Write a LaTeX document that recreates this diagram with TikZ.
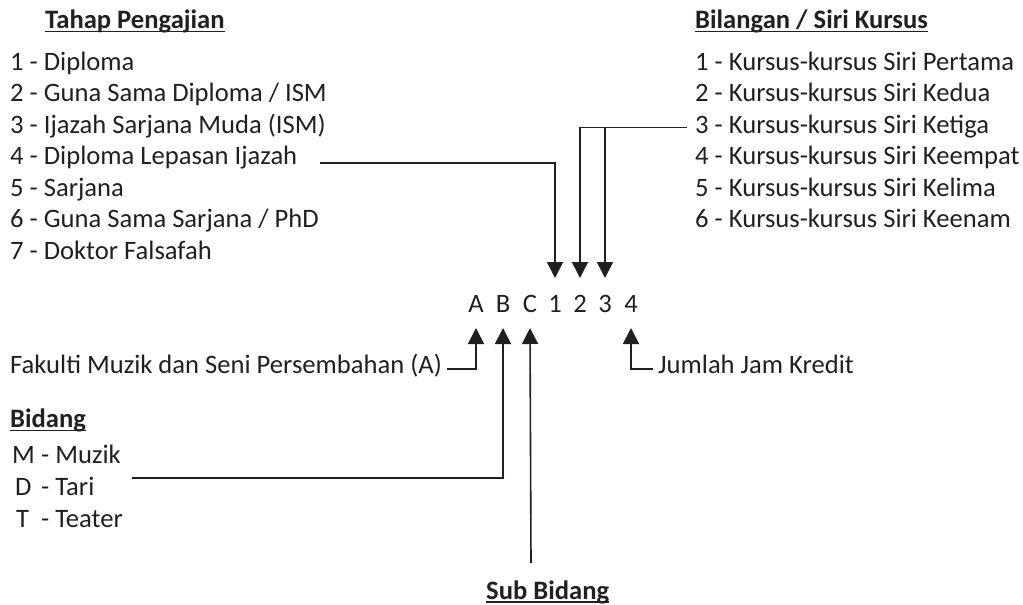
\documentclass[tikz,border=0pt]{standalone}
\usepackage{fontspec}
\setmainfont{Carlito}
\usetikzlibrary{arrows.meta,calc}
\definecolor{ink}{HTML}{231F20}
\begin{document}
\begin{tikzpicture}[x=1pt,y=-1pt,
  txt/.style={anchor=base west,inner sep=0pt,font=\fontsize{26.6}{30}\selectfont,text=ink},
  ttl/.style={txt,font=\fontsize{26.6}{30}\selectfont\bfseries},
  code/.style={anchor=base,inner sep=0pt,font=\fontsize{26.6}{30}\selectfont,text=ink},
  uline/.style={draw=ink,line width=1.3pt},
  arr/.style={draw=ink,line width=1.6pt,-{Triangle[width=16pt,length=16pt]}},
  conn/.style={draw=ink,line width=1.6pt}]
\useasboundingbox (0,0) rectangle (1023,605);
% left titles and list
\node[ttl] (tL) at (45,28) {Tahap Pengajian};
\draw[uline] ([yshift=-3.5pt]tL.base west) -- ([yshift=-3.5pt]tL.base east);
\node[txt] (l1) at (10,70) {1 - Diploma};
\node[txt] (l2) at (10,101.5) {2 - Guna Sama Diploma / ISM};
\node[txt] (l3) at (10,133) {3 - Ijazah Sarjana Muda (ISM)};
\node[txt] (l4) at (10,164.5) {4 - Diploma Lepasan Ijazah};
\node[txt] (l5) at (10,196) {5 - Sarjana};
\node[txt] (l6) at (10,227.5) {6 - Guna Sama Sarjana / PhD};
\node[txt] (l7) at (10,259) {7 - Doktor Falsafah};
% right titles and list
\node[ttl] (tR) at (695,28) {Bilangan / Siri Kursus};
\draw[uline] ([yshift=-3.5pt]tR.base west) -- ([yshift=-3.5pt]tR.base east);
\node[txt] (r1) at (695,70) {1 - Kursus-kursus Siri Pertama};
\node[txt] (r2) at (695,101.5) {2 - Kursus-kursus Siri Kedua};
\node[txt] (r3) at (695,133) {3 - Kursus-kursus Siri Ketiga};
\node[txt] (r4) at (695,164.5) {4 - Kursus-kursus Siri Keempat};
\node[txt] (r5) at (695,196) {5 - Kursus-kursus Siri Kelima};
\node[txt] (r6) at (695,227.5) {6 - Kursus-kursus Siri Keenam};
% code letters
\node[code] (cA) at (476,312) {A};
\node[code] (cB) at (503,312) {B};
\node[code] (cC) at (530,312) {C};
\node[code] (c1) at (555,312) {1};
\node[code] (c2) at (580,312) {2};
\node[code] (c3) at (605,312) {3};
\node[code] (c4) at (631,312) {4};
% lower texts
\node[txt] (fak) at (10,373) {Fakulti Muzik dan Seni Persembahan (A)};
\node[txt] (jum) at (658,373) {Jumlah Jam Kredit};
\node[ttl] (bid) at (10,427) {Bidang};
\draw[uline] ([yshift=-3.5pt]bid.base west) -- ([yshift=-3.5pt]bid.base east);
\node[txt] (bM) at (12,463) {M};
\node[txt] (bMt) at (41,463) {- Muzik};
\node[txt] (bD) at (15,495) {D};
\node[txt] (bDt) at (41,495) {- Tari};
\node[txt] (bT) at (16,527) {T};
\node[txt] (bTt) at (41,527) {- Teater};
\node[ttl] (sub) at (486,599) {Sub Bidang};
\draw[uline] ([yshift=-3pt]sub.base west) -- ([yshift=-3pt]sub.base east);
% connectors to top
\draw[arr] ([xshift=23pt,yshift=1.5pt]l4.base east) -| ([yshift=34pt]c1.base);
\coordinate (k3) at ([xshift=-8pt,yshift=5.5pt]r3.base west);
\draw[arr] (k3) -| ([yshift=34pt]c2.base);
\draw[arr] (k3 -| c3) -- ([yshift=34pt]c3.base);
% connectors from bottom
\draw[arr] ([xshift=5pt,yshift=4pt]fak.base east) -| ([yshift=-16pt]cA.base);
\coordinate (dline) at (132,478);
\draw[arr] (dline) -| ([yshift=-16pt]cB.base);
\coordinate (sbtop) at (531,563);
\draw[arr] (sbtop) -- ([yshift=-16pt]cC.base);
\draw[arr] ([xshift=-5pt,yshift=4pt]jum.base west) -| ([yshift=-16pt]c4.base);
\end{tikzpicture}
\end{document}
